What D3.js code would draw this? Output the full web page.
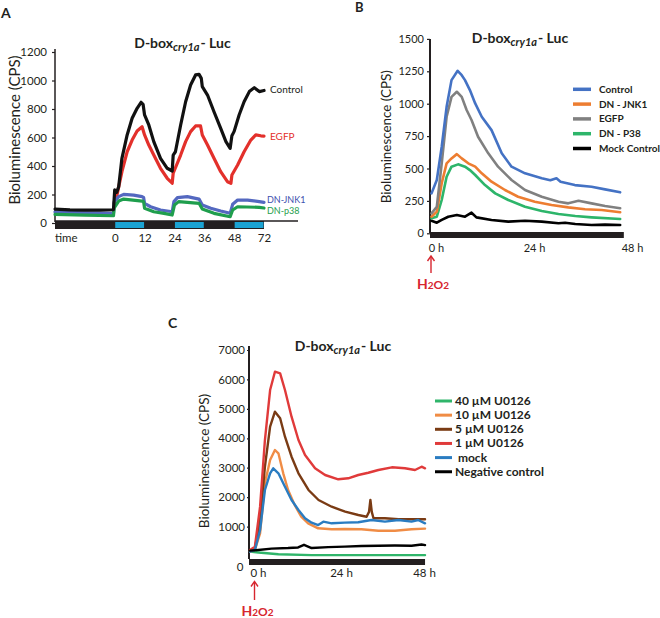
<!DOCTYPE html>
<html><head><meta charset="utf-8">
<script src="https://cdn.jsdelivr.net/npm/d3@7"></script>
<style>body{margin:0;background:#fff}svg{display:block}</style>
</head><body>
<svg id="c" width="660" height="618"></svg>
<script>
// ---------------- DATA ----------------
// Panel A : [time (h), CPS]
const aYTicks = [0, 200, 400, 600, 800, 1000, 1200];
const aXTicks = [0, 12, 24, 36, 48, 60];
const aXTickLabels = ["0", "12", "24", "36", "48", "72"];
const aLightPeriods = [[0, 12], [24, 36], [48, 60]];
const aControl = [[-24,98],[-18,92],[-12,90],[-6,91],[-0.5,93],[0,232],[0.8,215],[1.6,255],[2.9,454],[5,618],[7,735],[9,805],[10.6,847],[11.4,833],[12,758],[13.7,688],[15.7,571],[18.4,454],[21.1,384],[23.1,365],[23.5,477],[24.4,500],[26.5,688],[28.5,851],[30.5,968],[32.5,1039],[33.9,1043],[34.8,1015],[35.2,957],[37.3,898],[39.9,781],[42.6,664],[44.7,571],[46.4,524],[47.1,613],[48,643],[50,758],[52,851],[54.1,922],[56.1,950],[58.1,922],[60,930]];
const aEGFP = [[-0.2,138],[0.9,196],[2.9,360],[5,500],[7,582],[9,646],[11,676],[12,618],[13.7,547],[15.7,477],[18.4,384],[21.1,314],[23.1,279],[23.5,349],[26.5,477],[28.5,571],[30.5,641],[32.5,681],[34.5,681],[35.2,618],[37.3,547],[39.9,454],[42.6,360],[45.3,290],[46.7,279],[47.1,337],[49.4,407],[52,500],[54.7,582],[56.7,618],[58.7,612],[60,610]];
const aJNK1 = [[-24,78],[-12,72],[-0.5,68],[-0.2,150],[1.6,185],[3.6,201],[7.6,196],[11,185],[11.6,180],[12,138],[14.4,114],[18.4,91],[23.1,79],[23.8,150],[25.2,178],[29.2,185],[33.9,168],[35.2,126],[38.6,103],[42.6,84],[46.4,68],[47.4,131],[49.4,161],[53.4,161],[58.1,150],[60,145]];
const aP38 = [[-24,60],[-12,55],[-0.5,51],[-0.2,107],[1.6,154],[3.6,168],[11,154],[11.6,150],[12,103],[15.7,79],[19.8,68],[23.1,56],[24,126],[25.7,150],[33.9,138],[35.2,98],[39.9,68],[46.4,44],[47.4,91],[49.4,114],[58.1,110],[60,105]];
const aNames = ["Control", "EGFP", "DN-JNK1", "DN-p38"];

// Panel B
const bYTicks = [0, 250, 500, 750, 1000, 1250, 1500];
const bXTicks = [0, 24, 48];
const bControl = [[-1.1,308],[0.2,411],[1.4,668],[2.6,976],[3.8,1182],[5.3,1254],[6.3,1220],[7.1,1182],[8.3,1105],[9.6,1002],[11.2,899],[13.6,796],[16.1,617],[18.5,514],[21.8,463],[25.9,424],[28,410],[29.5,425],[30.5,398],[34,372],[38.1,359],[41.4,339],[45.1,316]];
const bJNK1 = [[-1.1,128],[0.2,167],[1.4,386],[2.6,540],[3.8,578],[5.1,611],[6.3,578],[7.9,540],[9.6,514],[11.2,463],[13.6,398],[16.9,334],[20.1,282],[24.2,244],[28.3,218],[32.4,200],[36.5,185],[40.6,180],[45.1,162]];
const bEGFP = [[-1.1,154],[0.2,205],[1.4,540],[2.6,899],[3.8,1053],[5.1,1092],[6.3,1053],[7.5,951],[8.7,874],[10.3,745],[12.8,617],[15.2,514],[18.5,411],[21.8,334],[25.9,282],[30,244],[32.4,231],[34.9,251],[38.1,231],[41.4,210],[45.1,193]];
const bP38 = [[-1.1,116],[0.2,128],[1.4,257],[2.6,436],[3.8,514],[5.4,532],[7.1,514],[8.3,488],[9.6,450],[12,372],[14.5,308],[17.7,257],[21.8,205],[25.9,172],[30,149],[34.1,133],[38.1,123],[45.1,110]];
const bMock = [[-1.1,97],[0.2,82],[1.4,103],[3,128],[5.1,141],[7.1,128],[8.7,159],[9.9,123],[13.6,103],[17.7,90],[21.8,97],[25.9,90],[30,77],[31.6,82],[34.1,72],[38.1,64],[41.4,67],[45.1,64]];
const bNames = ["Control", "DN - JNK1", "EGFP", "DN - P38", "Mock Control"];

// Panel C
const cYTicks = [1000, 2000, 3000, 4000, 5000, 6000, 7000];
const cXTicks = [0, 24, 48];
const c40uM = [[-2.3,150],[0.1,120],[5.9,60],[15.5,30],[30,30],[48.3,30]];
const c10uM = [[-2.3,147],[-0.9,204],[0.6,771],[2,2470],[3.5,3262],[4.9,3602],[5.9,3490],[7.3,2810],[8.7,2243],[10.6,1733],[12.5,1335],[14.5,1111],[17.4,941],[21.3,907],[25.1,918],[29.9,907],[34.8,860],[39.6,860],[44.4,907],[48.3,929]];
const c5uM = [[-2.3,181],[-0.9,260],[0.6,1223],[2,3034],[3.5,4393],[4.9,4903],[6.4,4679],[7.8,4054],[9.7,3374],[11.7,2810],[14.6,2243],[17.5,1903],[21.3,1675],[25.2,1505],[29,1393],[31.4,1335],[32.1,1500],[32.5,1903],[32.9,1500],[33.4,1281],[36.7,1281],[40.6,1247],[44.4,1247],[48.3,1247]];
const c1uM = [[-2.3,204],[-0.9,316],[0.6,1675],[2,3941],[3.5,5640],[4.9,6263],[6.4,6207],[7.8,5640],[9.7,4733],[11.7,3941],[13.6,3432],[16.5,2980],[19.4,2752],[23.2,2606],[26.1,2640],[29,2752],[31.9,2830],[34.8,2922],[38.7,3014],[42.5,2980],[45.4,2922],[47.3,3034],[48.3,2980]];
const cMock = [[-2.3,147],[-0.9,204],[0.6,883],[2,2243],[3.5,2810],[4.4,2980],[5.9,2810],[7.8,2356],[9.7,1903],[11.7,1563],[13.6,1281],[15.5,1133],[17.4,1053],[18.9,1167],[21.3,1111],[25.1,1133],[29,1145],[32.8,1223],[36.7,1167],[40.6,1223],[44.4,1167],[46.3,1223],[48.3,1111]];
const cNeg = [[-2.3,181],[0.1,204],[3.9,250],[8.7,270],[11.6,290],[13.3,380],[15.5,270],[20.3,300],[25.1,320],[29.9,340],[34.8,350],[39.6,355],[44.4,350],[47.3,390],[48.3,370]];
const cNames = ["40 µM U0126", "10 µM U0126", "5 µM U0126", "1 µM U0126", " mock", "Negative control"];

// ---------------- DRAW ----------------
const svg = d3.select('#c');
const F = "Lato, 'Open Sans', sans-serif";
const INK = "#231f20";
const RED = "#d7262f";
const fmt = d3.format('d');

function lineGen(x, y) { return d3.line().x(d => x(d[0])).y(d => y(d[1])); }
function drawLine(data, x, y, color, w) {
  svg.append('path').datum(data).attr('d', lineGen(x, y)).attr('fill', 'none')
    .attr('stroke', color).attr('stroke-width', w).attr('stroke-linejoin', 'round').attr('stroke-linecap', 'round');
}
function title(x, y) {
  const t = svg.append('text').attr('x', x).attr('y', y).attr('text-anchor', 'middle')
    .attr('font-family', F).attr('font-weight', 700).attr('font-size', 14).attr('fill', INK);
  t.append('tspan').text('D-box');
  t.append('tspan').attr('font-style', 'italic').attr('font-size', 11).attr('dy', 3).text('cry1a');
  t.append('tspan').attr('dy', -3).attr('dx', 1).text('- Luc');
}
function yLabel(x, y, size) {
  svg.append('text').attr('transform', `translate(${x},${y}) rotate(-90)`).attr('text-anchor', 'middle')
    .attr('font-family', F).attr('font-size', size).attr('fill', INK).text('Bioluminescence (CPS)');
}
function letter(t, x, y, s) {
  svg.append('text').attr('x', x).attr('y', y).attr('font-family', F).attr('font-weight', 700)
    .attr('font-size', s).attr('fill', INK).text(t);
}
function styleAxis(g, size) {
  g.select('.domain').remove();
  g.selectAll('text').attr('font-family', F).attr('font-size', size).attr('fill', INK);
  g.selectAll('line').attr('stroke', INK).attr('stroke-width', 1.2);
}
function h2o2(x, yTop, yBot, tx, ty) {
  svg.append('line').attr('x1', x).attr('x2', x).attr('y1', yTop + 1).attr('y2', yBot)
    .attr('stroke', RED).attr('stroke-width', 1.4);
  svg.append('path').attr('d', `M${x - 3.5},${yTop + 5} L${x},${yTop} L${x + 3.5},${yTop + 5}`)
    .attr('fill', 'none').attr('stroke', RED).attr('stroke-width', 1.4);
  const t = svg.append('text').attr('x', tx).attr('y', ty).attr('text-anchor', 'middle')
    .attr('font-family', F).attr('font-weight', 700).attr('fill', RED).attr('font-size', 14);
  t.append('tspan').text('H');
  t.append('tspan').attr('font-size', 10).text('2');
  t.append('tspan').attr('font-size', 12).text('O');
  t.append('tspan').attr('font-size', 10).text('2');
}

// ===== Panel A =====
const ax = d3.scaleLinear().domain([-24, 60]).range([55, 264]);
const ay = d3.scaleLinear().domain([0, 1200]).range([223, 52]);
letter('A', 1, 18, 14);
title(182.5, 48);
yLabel(19.5, 130, 15);
svg.append('g').attr('transform', 'translate(55,0)')
  .call(d3.axisLeft(ay).tickValues(aYTicks).tickFormat(fmt).tickSize(3).tickPadding(5))
  .call(g => styleAxis(g, 11.5));
svg.append('line').attr('x1', 55).attr('x2', 55).attr('y1', 49).attr('y2', 222).attr('stroke', INK).attr('stroke-width', 1.5);
// light/dark bar
svg.append('rect').attr('x', ax(-24)).attr('y', 221).attr('width', ax(60) - ax(-24)).attr('height', 8).attr('fill', INK);
svg.selectAll('rect.light').data(aLightPeriods).join('rect').attr('class', 'light')
  .attr('x', d => ax(d[0]) + 0.5).attr('y', 222).attr('width', d => ax(d[1]) - ax(d[0]) - 1).attr('height', 6)
  .attr('fill', '#1ba3d3');
svg.append('line').attr('x1', 55).attr('x2', 298).attr('y1', 221).attr('y2', 221).attr('stroke', INK).attr('stroke-width', 1.5);
svg.append('g').attr('transform', 'translate(0,229)')
  .call(d3.axisBottom(ax).tickValues(aXTicks).tickFormat((d, i) => aXTickLabels[i]).tickSize(0).tickPadding(5))
  .call(g => styleAxis(g, 11.5));
svg.append('text').attr('x', 55).attr('y', 242).attr('font-family', F).attr('font-size', 11.5).attr('fill', INK).text('time');
const aColors = ['#111111', '#e3302b', '#5468c0', '#1f9e4d'];
drawLine(aEGFP, ax, ay, aColors[1], 3.2);
drawLine(aJNK1, ax, ay, aColors[2], 3.2);
drawLine(aP38, ax, ay, aColors[3], 3.2);
drawLine(aControl, ax, ay, aColors[0], 3.2);
const aLabelPos = [[270, 93], [270, 140], [267, 203], [267, 213.5]];
const aLabelSizes = [10, 10, 9, 9];
const aLabelColors = [INK, '#e3302b', '#3d4fae', '#1f9e4d'];
aNames.forEach((n, i) => {
  svg.append('text').attr('x', aLabelPos[i][0]).attr('y', aLabelPos[i][1]).attr('font-family', F)
    .attr('font-size', aLabelSizes[i]).attr('fill', aLabelColors[i]).text(n);
});

// ===== Panel B =====
const bx = d3.scaleLinear().domain([0, 48]).range([436, 632]);
const by = d3.scaleLinear().domain([0, 1500]).range([233.3, 38.9]);
letter('B', 355, 12, 13);
title(520, 43);
yLabel(390.5, 136.7, 13.4);
svg.append('g').attr('transform', 'translate(430,0)')
  .call(d3.axisLeft(by).tickValues(bYTicks).tickFormat(fmt).tickSize(3).tickPadding(3))
  .call(g => styleAxis(g, 11));
svg.append('line').attr('x1', 430).attr('x2', 430).attr('y1', 39).attr('y2', 233).attr('stroke', INK).attr('stroke-width', 2);
svg.append('rect').attr('x', 430).attr('y', 232).attr('width', bx(46) - 430).attr('height', 6).attr('fill', INK);
svg.append('g').attr('transform', 'translate(0,238)')
  .call(d3.axisBottom(bx).tickValues(bXTicks).tickFormat(d => d + ' h').tickSize(0).tickPadding(6))
  .call(g => styleAxis(g, 11));
const bColors = ['#4472c4', '#ed7d31', '#808080', '#2db56a', '#000000'];
drawLine(bMock, bx, by, bColors[4], 2.6);
drawLine(bP38, bx, by, bColors[3], 2.6);
drawLine(bJNK1, bx, by, bColors[1], 2.6);
drawLine(bEGFP, bx, by, bColors[2], 2.6);
drawLine(bControl, bx, by, bColors[0], 2.6);
bNames.forEach((n, i) => {
  const yy = 89.3 + i * 14.8;
  svg.append('line').attr('x1', 573).attr('x2', 591).attr('y1', yy).attr('y2', yy)
    .attr('stroke', bColors[i]).attr('stroke-width', 3.5);
  svg.append('text').attr('x', 599).attr('y', yy + 3.5).attr('font-family', F).attr('font-weight', 700)
    .attr('font-size', 10).attr('fill', INK).text(n);
});
h2o2(431, 256, 273, 433, 289);

// ===== Panel C =====
const cx = d3.scaleLinear().domain([0, 48]).range([258, 424]);
const cy = d3.scaleLinear().domain([0, 7000]).range([556, 350]);
letter('C', 168, 328, 14);
title(343, 350.5);
yLabel(209, 461, 13.5);
svg.append('g').attr('transform', 'translate(249,0)')
  .call(d3.axisLeft(cy).tickValues(cYTicks).tickFormat(fmt).tickSize(2).tickPadding(2))
  .call(g => styleAxis(g, 11.5));
svg.append('text').attr('x', 243.5).attr('y', cy(0) + 14.5).attr('text-anchor', 'end').attr('font-family', F)
  .attr('font-size', 11.5).attr('fill', INK).text('0');
svg.append('line').attr('x1', 249).attr('x2', 249).attr('y1', 346).attr('y2', 559).attr('stroke', INK).attr('stroke-width', 2);
svg.append('rect').attr('x', 249).attr('y', 559).attr('width', cx(48.3) - 249).attr('height', 6).attr('fill', INK);
svg.append('g').attr('transform', 'translate(0,565)')
  .call(d3.axisBottom(cx).tickValues(cXTicks).tickFormat(d => d + ' h').tickSize(0).tickPadding(4))
  .call(g => styleAxis(g, 11.5));
const cColors = ['#2fb56a', '#f08c45', '#7a3b14', '#e03a3a', '#2a7cc1', '#000000'];
const cSeries = [c40uM, c10uM, c5uM, c1uM, cMock, cNeg];
cSeries.forEach((s, i) => drawLine(s, cx, cy, cColors[i], 2.4));
cNames.forEach((n, i) => {
  const yy = 401 + i * 14.15;
  svg.append('line').attr('x1', 435).attr('x2', 452).attr('y1', yy).attr('y2', yy)
    .attr('stroke', cColors[i]).attr('stroke-width', 3);
  svg.append('text').attr('x', 455).attr('y', yy + 4).attr('font-family', F).attr('font-weight', 700)
    .attr('font-size', 12).attr('fill', INK).attr('xml:space', 'preserve').style('white-space', 'pre').text(n);
});
h2o2(254.5, 581.5, 600, 257.5, 616);
</script>
</body></html>
